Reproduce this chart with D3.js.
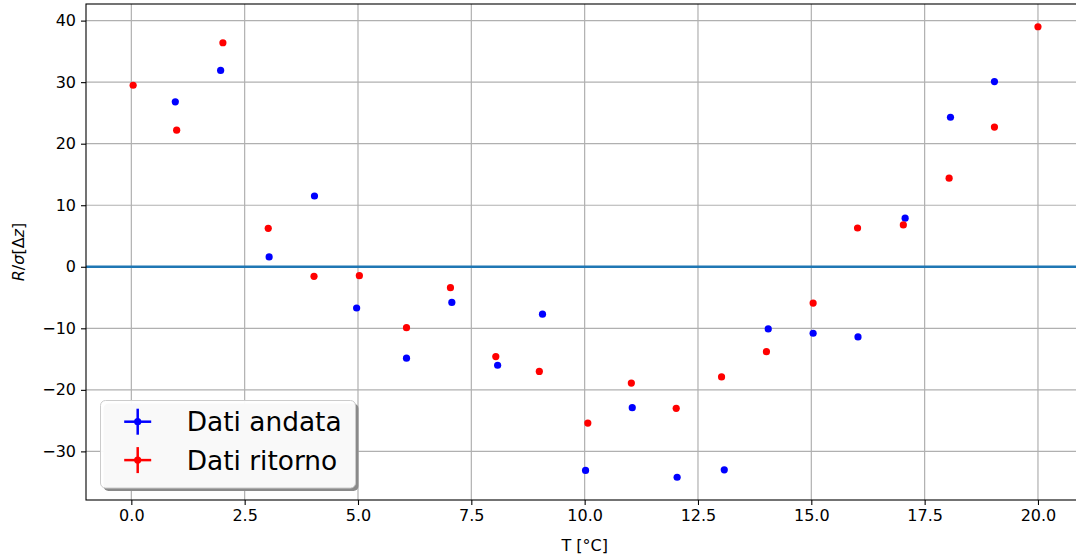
<!DOCTYPE html>
<html>
<head>
<meta charset="utf-8">
<script src="https://cdn.jsdelivr.net/npm/d3@7"></script>
<style>
  body { margin: 0; background: #fff; }
  svg { display: block; font-family: "DejaVu Sans", sans-serif; }
</style>
</head>
<body>
<svg id="chart"></svg>
<script>
// data
const andataT = [0.97, 1.97, 3.04, 4.04, 4.97, 6.07, 7.07, 8.08, 9.07, 10.02, 11.05, 12.04, 13.08, 14.05, 15.04, 16.03, 17.07, 18.07, 19.04];
const andataR = [26.8, 31.9, 1.6, 11.5, -6.7, -14.85, -5.8, -16.0, -7.7, -33.1, -22.9, -34.2, -33.0, -10.1, -10.8, -11.4, 7.9, 24.3, 30.1];
const ritornoT = [0.04, 1.0, 2.02, 3.02, 4.03, 5.03, 6.07, 7.04, 8.04, 9.0, 10.07, 11.03, 12.02, 13.02, 14.01, 15.04, 16.02, 17.03, 18.04, 19.04, 20.0];
const ritornoR = [29.5, 22.2, 36.4, 6.25, -1.55, -1.45, -9.9, -3.4, -14.6, -17.0, -25.4, -18.9, -23.0, -17.9, -13.8, -5.9, 6.3, 6.8, 14.4, 22.7, 39.0];
const xTicks = [0, 2.5, 5, 7.5, 10, 12.5, 15, 17.5, 20];
const yTicks = [-30, -20, -10, 0, 10, 20, 30, 40];
const seriesNames = ["Dati andata", "Dati ritorno"];
const seriesColors = ["#0000ff", "#ff0000"];

const W = 1076, H = 558;
const pL = 86, pT = 4, pR = 1083.3, pB = 500;

const svg = d3.select("#chart").attr("width", W).attr("height", H);

const x = d3.scaleLinear().domain([-1, 21]).range([pL, pR]);
const y = d3.scaleLinear().domain([-37.9, 42.7]).range([pB, pT]);

svg.append("defs").append("clipPath").attr("id", "clip")
    .append("rect").attr("x", pL).attr("y", pT)
    .attr("width", pR - pL).attr("height", pB - pT);

// grid
const grid = svg.append("g").attr("stroke", "#b0b0b0").attr("stroke-width", 1.2);
grid.selectAll(".gx").data(xTicks).enter().append("line")
    .attr("x1", d => x(d)).attr("x2", d => x(d))
    .attr("y1", pT).attr("y2", pB);
grid.selectAll(".gy").data(yTicks).enter().append("line")
    .attr("x1", pL).attr("x2", pR)
    .attr("y1", d => y(d)).attr("y2", d => y(d));

// zero line
svg.append("line")
    .attr("x1", pL).attr("x2", pR)
    .attr("y1", y(0)).attr("y2", y(0))
    .attr("stroke", "#1f77b4").attr("stroke-width", 2.6);

// points
const plot = svg.append("g").attr("clip-path", "url(#clip)");
const andata = andataT.map((t, i) => ({ t: t, r: andataR[i] }));
const ritorno = ritornoT.map((t, i) => ({ t: t, r: ritornoR[i] }));

plot.selectAll(".dot-a").data(andata).enter().append("circle")
    .attr("cx", d => x(d.t)).attr("cy", d => y(d.r))
    .attr("r", 3.6).attr("fill", seriesColors[0]);
plot.selectAll(".dot-r").data(ritorno).enter().append("circle")
    .attr("cx", d => x(d.t)).attr("cy", d => y(d.r))
    .attr("r", 3.6).attr("fill", seriesColors[1]);

// axes
const fmtMinus = s => s.replace("-", "\u2212");
const xAxis = d3.axisBottom(x).tickValues(xTicks).tickFormat(d => fmtMinus(d3.format(".1f")(d)))
    .tickSize(5).tickPadding(5);
const yAxis = d3.axisLeft(y).tickValues(yTicks).tickFormat(d => fmtMinus(String(d)))
    .tickSize(5).tickPadding(5);

const gx = svg.append("g").attr("transform", `translate(0,${pB})`).call(xAxis);
const gy = svg.append("g").attr("transform", `translate(${pL},0)`).call(yAxis);
[gx, gy].forEach(g => {
    g.select(".domain").remove();
    g.selectAll("line").attr("stroke", "#000").attr("stroke-width", 1.1);
    g.selectAll("text").attr("fill", "#000").style("font-size", "16px")
        .style("font-family", "DejaVu Sans");
});

// spines
svg.append("rect")
    .attr("x", pL).attr("y", pT)
    .attr("width", pR - pL).attr("height", pB - pT)
    .attr("fill", "none").attr("stroke", "#000").attr("stroke-width", 1.1);

// axis labels
svg.append("text")
    .attr("x", (pL + pR) / 2).attr("y", 551)
    .attr("text-anchor", "middle").style("font-size", "16px")
    .text("T [°C]");

const yl = svg.append("text")
    .attr("transform", "translate(24,252) rotate(-90)")
    .attr("text-anchor", "middle").style("font-size", "16px");
yl.append("tspan").style("font-style", "italic").text("R");
yl.append("tspan").text("/");
yl.append("tspan").style("font-style", "italic").text("σ");
yl.append("tspan").text("[Δ");
yl.append("tspan").style("font-style", "italic").text("z");
yl.append("tspan").text("]");

// legend
const lg = svg.append("g");
lg.append("rect")
    .attr("x", 103.5).attr("y", 403.5).attr("width", 255).attr("height", 87.5)
    .attr("rx", 5).attr("fill", "#8a8a8a");
lg.append("rect")
    .attr("x", 100.5).attr("y", 400.5).attr("width", 255).attr("height", 87.5)
    .attr("rx", 5).attr("fill", "#fff").attr("fill-opacity", 0.95)
    .attr("stroke", "#cccccc").attr("stroke-width", 1);

const items = lg.selectAll(".item").data(seriesNames).enter().append("g")
    .attr("transform", (d, i) => `translate(137.7,${421.7 + i * 38.4})`);
items.append("line").attr("x1", -13.5).attr("x2", 13.5).attr("y1", 0).attr("y2", 0)
    .attr("stroke", (d, i) => seriesColors[i]).attr("stroke-width", 2.5);
items.append("line").attr("x1", 0).attr("x2", 0).attr("y1", -13).attr("y2", 13)
    .attr("stroke", (d, i) => seriesColors[i]).attr("stroke-width", 2.5);
items.append("circle").attr("r", 3.6).attr("fill", (d, i) => seriesColors[i]);
items.append("text")
    .attr("x", 49).attr("y", 9.5)
    .style("font-size", "26.4px")
    .text(d => d);
</script>
</body>
</html>
